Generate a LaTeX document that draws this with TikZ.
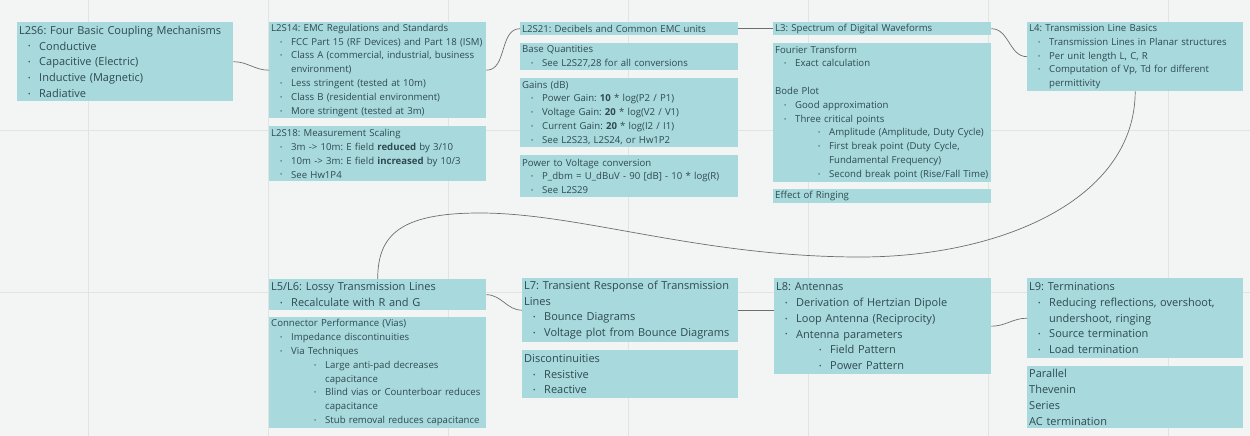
\documentclass[tikz,border=0pt]{standalone}
\usepackage{fontspec}
\setmainfont{Open Sans}
\usetikzlibrary{positioning}
\frenchspacing

\definecolor{boxfill}{HTML}{A8D9DC}
\definecolor{ink}{HTML}{2E4A50}
\definecolor{linkgray}{HTML}{6E6E6E}
\definecolor{bggray}{HTML}{F3F4F4}
\definecolor{gridgray}{HTML}{E2E4E4}

% bullets
\newcommand\dotb{\raisebox{.2ex}{\scalebox{.6}{\textbullet}}}
\newcommand\bl{\hspace*{9pt}\makebox[11pt][l]{\dotb}}
\newcommand\bll{\hspace*{43pt}\makebox[11pt][l]{\dotb}}
\newcommand\cnt{\hspace*{20pt}}
\newcommand\cntt{\hspace*{54pt}}

\tikzset{
  card/.style={fill=boxfill, text=ink, anchor=north west, align=left,
    inner xsep=2pt, inner ysep=1pt},
  smallfont/.style={font=\fontsize{9.6}{13.8}\selectfont},
  bigfont/.style={font=\fontsize{11}{15.8}\selectfont},
  link/.style={draw=linkgray, line width=0.7pt}
}

\begin{document}
\begin{tikzpicture}[x=1pt, y=-1pt]
  % background and grid
  \fill[bggray] (0,0) rectangle (1250,436);
  \useasboundingbox (0,0) rectangle (1250,436);
  \foreach \gx in {88,268,448,628,808,988,1168}
    \draw[gridgray, line width=0.8pt] (\gx,0) -- (\gx,436);
  \foreach \gy in {130,292}
    \draw[gridgray, line width=0.8pt] (0,\gy) -- (1250,\gy);

  % top row
  \node[card, bigfont, text width=212pt, minimum height=79pt] (s6) at (17,22)
    {L2S6: Four Basic Coupling Mechanisms\\
     \bl Conductive\\
     \bl Capacitive (Electric)\\
     \bl Inductive (Magnetic)\\
     \bl Radiative};

  \node[card, smallfont, text width=213pt, minimum height=96pt] (s14) at (269,22)
    {L2S14: EMC Regulations and Standards\\
     \bl FCC Part 15 (RF Devices) and Part 18 (ISM)\\
     \bl Class A (commercial, industrial, business\\
     \cnt environment)\\
     \bl Less stringent (tested at 10m)\\
     \bl Class B (residential environment)\\
     \bl More stringent (tested at 3m)};

  \node[card, smallfont, text width=213pt, minimum height=55pt] (s18) at (269,126)
    {L2S18: Measurement Scaling\\
     \bl 3m -> 10m: E field \textbf{reduced} by 3/10\\
     \bl 10m -> 3m: E field \textbf{increased} by 10/3\\
     \bl See Hw1P4};

  \node[card, smallfont, text width=214pt, minimum height=13pt] (s21) at (520,22)
    {L2S21: Decibels and Common EMC units};
  \node[card, smallfont, text width=214pt, minimum height=27pt] (base) at (520,43)
    {Base Quantities\\
     \bl See L2S27,28 for all conversions};
  \node[card, smallfont, text width=214pt, minimum height=69pt] (gains) at (520,78)
    {Gains (dB)\\
     \bl Power Gain: \textbf{10} * log(P2 / P1)\\
     \bl Voltage Gain: \textbf{20} * log(V2 / V1)\\
     \bl Current Gain: \textbf{20} * log(I2 / I1)\\
     \bl See L2S23, L2S24, or Hw1P2};
  \node[card, smallfont, text width=214pt, minimum height=42pt] (pwr) at (520,155)
    {Power to Voltage conversion\\
     \bl P\_dbm = U\_dBuV - 90 [dB] - 10 * log(R)\\
     \bl See L2S29};

  \node[card, smallfont, text width=214pt, minimum height=13pt] (l3) at (773,22)
    {L3: Spectrum of Digital Waveforms};
  \node[card, smallfont, text width=214pt, minimum height=139pt] (four) at (773,43)
    {Fourier Transform\\
     \bl Exact calculation\\[13.8pt]
     Bode Plot\\
     \bl Good approximation\\
     \bl Three critical points\\
     \bll Amplitude (Amplitude, Duty Cycle)\\
     \bll First break point (Duty Cycle,\\
     \cntt Fundamental Frequency)\\
     \bll Second break point (Rise/Fall Time)};
  \node[card, smallfont, text width=214pt, minimum height=14pt] (ring) at (773,189)
    {Effect of Ringing};

  \node[card, smallfont, text width=212pt, minimum height=69pt] (l4) at (1027,22)
    {L4: Transmission Line Basics\\
     \bl Transmission Lines in Planar structures\\
     \bl Per unit length L, C, R\\
     \bl Computation of Vp, Td for different\\
     \cnt permittivity};

  % bottom row
  \node[card, bigfont, text width=213pt, minimum height=31pt] (l56) at (269,279)
    {L5/L6: Lossy Transmission Lines\\
     \bl Recalculate with R and G};
  \node[card, smallfont, text width=213pt, minimum height=111pt] (conn) at (269,317)
    {Connector Performance (Vias)\\
     \bl Impedance discontinuities\\
     \bl Via Techniques\\
     \bll Large anti-pad decreases\\
     \cntt capacitance\\
     \bll Blind vias or Counterboar reduces\\
     \cntt capacitance\\
     \bll Stub removal reduces capacitance};

  \node[card, bigfont, text width=212pt, minimum height=64pt] (l7) at (522,278)
    {L7: Transient Response of Transmission\\
     Lines\\
     \bl Bounce Diagrams\\
     \bl Voltage plot from Bounce Diagrams};
  \node[card, bigfont, text width=212pt, minimum height=48pt] (disc) at (522,350)
    {Discontinuities\\
     \bl Resistive\\
     \bl Reactive};

  \node[card, bigfont, text width=213pt, minimum height=96pt] (l8) at (774,278)
    {L8: Antennas\\
     \bl Derivation of Hertzian Dipole\\
     \bl Loop Antenna (Reciprocity)\\
     \bl Antenna parameters\\
     \bll Field Pattern\\
     \bll Power Pattern};

  \node[card, bigfont, text width=212pt, minimum height=80pt] (l9) at (1027,278)
    {L9: Terminations\\
     \bl Reducing reflections, overshoot,\\
     \cnt undershoot, ringing\\
     \bl Source termination\\
     \bl Load termination};
  \node[card, bigfont, text width=212pt, minimum height=62pt] (term) at (1027,366)
    {Parallel\\
     Thevenin\\
     Series\\
     AC termination};

  % connectors
  \draw[link] (s6.east) to[out=0, in=180] (s14.west);
  \draw[link] (s14.east) to[out=0, in=180] (s21.west);
  \draw[link] (s21.east) -- (l3.west);
  \draw[link] (l3.east) to[out=0, in=180] (l4.west);
  \draw[link] (l4.south) .. controls (1135,200) and (1000,257) .. (860,257)
    .. controls (700,257) and (580,213) .. (480,213)
    .. controls (400,213) and (l56.north |- 0,235) .. (l56.north);
  \draw[link] (l56.east) to[out=0, in=180] (l7.west);
  \draw[link] (l7.east) -- (l7.east -| l8.west);
  \draw[link] (l8.east) to[out=0, in=180] (l9.west);
\end{tikzpicture}
\end{document}
